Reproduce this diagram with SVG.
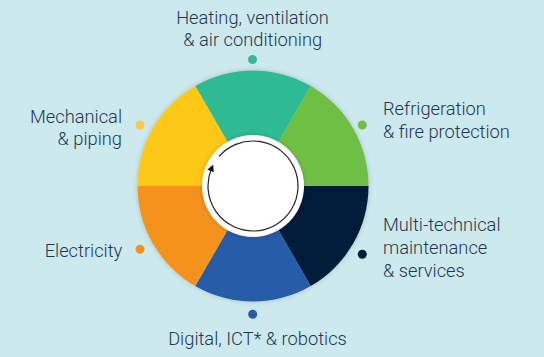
<svg xmlns="http://www.w3.org/2000/svg" width="544" height="357" viewBox="0 0 544 357">
<defs>
<style>
.t{font-family:Roboto,"Liberation Sans",sans-serif;font-weight:300;font-size:18.3px;fill:#1f3651}
</style>
<filter id="sh" x="-20%" y="-20%" width="140%" height="140%">
<feDropShadow dx="0" dy="0" stdDeviation="2.5" flood-color="#000" flood-opacity="0.18"/>
</filter>
<marker id="ah" markerWidth="7" markerHeight="7" refX="2" refY="3.5" orient="auto" markerUnits="userSpaceOnUse">
<path d="M0,0 L7,3.5 L0,7 Z" fill="#111"/>
</marker>
</defs>
<rect width="544" height="357" fill="#cce9ee"/>
<g id="wheel" filter="url(#sh)">
<path id="seg-hvac" d="M253,186 L310.75,85.97 A115.5,115.5 0 0 0 195.25,85.97 Z" fill="#2fbb94"/>
<path id="seg-refrig" d="M253,186 L368.5,186 A115.5,115.5 0 0 0 310.75,85.97 Z" fill="#70bf44"/>
<path id="seg-multi" d="M253,186 L310.75,286.03 A115.5,115.5 0 0 0 368.5,186 Z" fill="#021b38"/>
<path id="seg-digital" d="M253,186 L195.25,286.03 A115.5,115.5 0 0 0 310.75,286.03 Z" fill="#285ca8"/>
<path id="seg-elec" d="M253,186 L137.5,186 A115.5,115.5 0 0 0 195.25,286.03 Z" fill="#f5921e"/>
<path id="seg-mech" d="M253,186 L195.25,85.97 A115.5,115.5 0 0 0 137.5,186 Z" fill="#fdc817"/>
</g>
<g id="hub">
<circle cx="253" cy="186" r="51" fill="#fff" filter="url(#sh)"/>
</g>
<g id="connectors">
<path d="M219.04,156.48 A45,45 0 1 1 211.28,169.14" fill="none" stroke="#222" stroke-width="1.2" marker-end="url(#ah)"/>
</g>
<g id="n-hvac">
<circle cx="252.5" cy="59.5" r="4.5" fill="#2fbb94"/>
<text class="t" x="252.5" y="23.5" text-anchor="middle">Heating, ventilation</text>
<text class="t" x="252.7" y="45.7" text-anchor="middle">&amp; air conditioning</text>
</g>
<g id="n-refrig">
<circle cx="362.3" cy="125" r="4.5" fill="#70bf44"/>
<text class="t" x="383" y="115">Refrigeration</text>
<text class="t" x="383" y="138.3">&amp; fire protection</text>
</g>
<g id="n-multi">
<circle cx="362.3" cy="254.3" r="4.5" fill="#021b38"/>
<text class="t" x="383" y="231">Multi-technical</text>
<text class="t" x="383" y="254">maintenance</text>
<text class="t" x="383" y="277">&amp; services</text>
</g>
<g id="n-digital">
<circle cx="252.7" cy="314.3" r="4.5" fill="#285ca8"/>
<text class="t" x="257.5" y="345" text-anchor="middle">Digital, ICT* &amp; robotics</text>
</g>
<g id="n-elec">
<circle cx="140" cy="249.3" r="4.5" fill="#f5921e"/>
<text class="t" x="122.3" y="256.7" text-anchor="end">Electricity</text>
</g>
<g id="n-mech">
<circle cx="140" cy="125" r="4.5" fill="#fcc94f"/>
<text class="t" x="122" y="122.5" text-anchor="end">Mechanical</text>
<text class="t" x="122" y="145" text-anchor="end">&amp; piping</text>
</g>
</svg>
